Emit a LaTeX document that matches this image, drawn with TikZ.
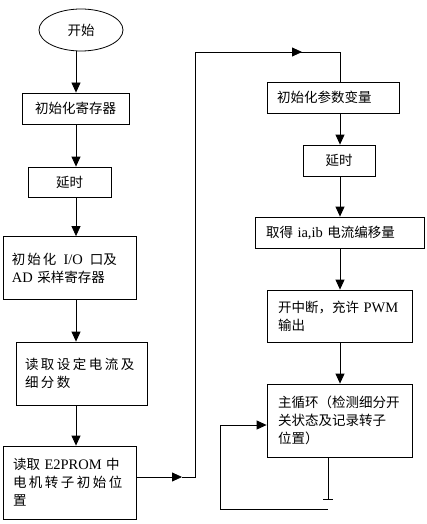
\documentclass[tikz,border=0pt]{standalone}
\usepackage{fontspec}
\setmainfont{Liberation Serif}
\newfontfamily\cjk{Noto Sans CJK SC}
\usetikzlibrary{arrows.meta,shapes.geometric}
\newcommand{\lat}[1]{{\rmfamily\fontsize{14.5}{18}\selectfont #1}}
\newcommand{\gap}{\hspace{2.5pt}}

\begin{document}
\begin{tikzpicture}[x=1pt, y=-1pt,
	box/.style={draw, line width=0.8pt, inner xsep=10pt, inner ysep=0pt,
		font=\cjk\fontsize{13.5}{18}\selectfont},
	lbox/.style={box, align=left},
	flow/.style={line width=0.8pt, -{Triangle[length=10pt, width=9pt]}},
	line/.style={line width=0.8pt}]

	\newcommand{\colL}{76}
	\newcommand{\colR}{340}
	\useasboundingbox (0,0) rectangle (427,524);

	% left column
	\node[ellipse, draw, line width=0.8pt, minimum width=84pt, minimum height=42pt, inner sep=0pt,
		font=\cjk\fontsize{13.5}{18}\selectfont] (start) at (81,30) {开始};
	\node[box, minimum width=107pt, minimum height=31pt] (reg) at (75.5,108.5) {初始化寄存器};
	\node[box, minimum width=83pt, minimum height=30pt] (wait1) at (69.5,182) {延时};
	\node[lbox, text width=115pt, inner xsep=9pt, minimum height=63pt] (io) at (69.5,268) {初\hspace{2pt}始\hspace{2pt}化\hspace{7pt}\lat{I/O}\hspace{7pt}口及\\\lat{AD} 采样寄存器};
	\node[lbox, text width=113pt, inner xsep=9pt, minimum height=63pt] (cur) at (81.5,373.5) {读\gap 取\gap 设\gap 定\gap 电\gap 流\gap 及\\细\gap 分\gap 数\\[6pt]};
	\node[lbox, text width=113pt, minimum height=73pt] (rom) at (69.5,482.5) {读取 \lat{E2PROM} 中\\电\gap 机\gap 转\gap 子\gap 初\gap 始\gap 位\\置};

	% right column
	\node[lbox, text width=112pt, minimum height=31pt] (par) at (333,97.5) {初始化参数变量};
	\node[box, minimum width=72pt, minimum height=31pt] (wait2) at (339,160.5) {延时};
	\node[lbox, inner xsep=11pt, text width=147pt, minimum height=31pt] (ofs) at (339.5,232.5) {取得 \lat{ia,ib} 电流编移量};
	\node[lbox, inner xsep=11pt, text width=123pt, minimum height=52pt] (pwm) at (339.5,316) {开中断，充许 \lat{PWM}\\输出};
	\node[lbox, inner xsep=11pt, text width=123pt, minimum height=73pt] (loop) at (339.5,420.5) {主循环（检测细分开\\关状态及记录转子\\位置）};

	\coordinate (up1) at (195,477);
	\coordinate (up2) at (195,52);
	\coordinate (top) at (\colR,52);
	\coordinate (mid1) at (182,477);
	\coordinate (mid2) at (302,52);
	\coordinate (stub) at (328,499);
	\coordinate (back1) at (328,509);
	\coordinate (back2) at (220,509);
	\coordinate (back3) at (220,425);

	\draw[flow] (start.south -| \colL,0) -- (reg.north -| \colL,0);
	\draw[flow] (reg.south -| \colL,0) -- (wait1.north -| \colL,0);
	\draw[flow] (wait1.south -| \colL,0) -- (io.north -| \colL,0);
	\draw[flow] (io.south -| \colL,0) -- (cur.north -| \colL,0);
	\draw[flow] (cur.south -| \colL,0) -- (rom.north -| \colL,0);

	% jump to the right column
	\draw[flow] (rom.east |- mid1) -- (mid1);
	\draw[line] (mid1) -- (up1) -- (up2) -- (top) -- (par.north -| top);
	\draw[flow] (up2) -- (mid2);

	\draw[flow] (par.south -| \colR,0) -- (wait2.north -| \colR,0);
	\draw[flow] (wait2.south -| \colR,0) -- (ofs.north -| \colR,0);
	\draw[flow] (ofs.south -| \colR,0) -- (pwm.north -| \colR,0);
	\draw[flow] (pwm.south -| \colR,0) -- (loop.north -| \colR,0);

	% main loop
	\draw[line] (loop.south -| stub) -- (stub);
	\draw[line] ([xshift=-5pt]stub) -- ([xshift=5pt]stub);
	\draw[flow] (back1) -- (back2) -- (back3) -- (back3 -| loop.west);
\end{tikzpicture}
\end{document}
